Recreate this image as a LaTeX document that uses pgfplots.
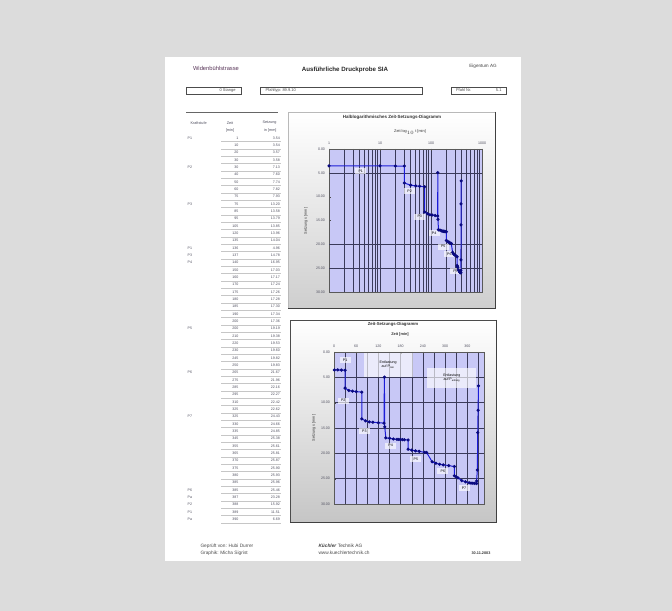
\documentclass[border=0pt]{standalone}
\usepackage{fontspec}
\setmainfont{Liberation Sans}
\usepackage{pgfplots}
\usepackage{pgfplotstable}
\pgfplotsset{compat=1.18}
\definecolor{bgpage}{HTML}{DCDCDC}
\definecolor{plotbg}{HTML}{C8C8F6}
\definecolor{serie}{HTML}{1C1CD8}
\definecolor{mk}{HTML}{0A0A80}
\definecolor{gridc}{HTML}{3A3A5A}
\definecolor{txt}{HTML}{505060}
\newcommand{\fs}[1]{\fontsize{#1}{#1}\selectfont}

\pgfplotstableread{
t s
1 3.54
10 3.54
20 3.57
30 3.58
30 7.13
40 7.60
50 7.74
60 7.82
75 7.93
75 13.20
85 13.58
95 13.79
105 13.85
120 13.96
135 14.04
136 4.96
137 14.78
140 16.95
150 17.03
160 17.17
170 17.24
175 17.26
180 17.28
185 17.30
190 17.34
200 17.36
200 19.19
210 19.38
220 19.53
230 19.60
245 19.82
250 19.83
265 21.67
275 21.96
285 22.16
295 22.27
310 22.42
325 22.62
325 24.43
330 24.66
335 24.85
345 25.38
355 25.61
365 25.81
370 25.87
375 25.90
380 25.93
385 25.96
385 25.46
387 23.28
388 15.92
389 11.51
390 6.69
}\datatab

\pgfplotsset{
  chartstyle/.style={
    scale only axis, anchor=south west,
    axis background/.style={fill=plotbg},
    y dir=reverse, ymin=0, ymax=30, ytick={0,5,...,30},
    xticklabel pos=upper,
    axis line style={gray!70!black, line width=0.4},
    major tick length=2bp, minor tick length=0bp,
    tick style={gray!60!black, line width=0.3},
    ticklabel style={font=\fs{3.6}, text=txt},
    /pgf/number format/assume math mode=true,
    yticklabel style={/pgf/number format/fixed, /pgf/number format/fixed zerofill, /pgf/number format/precision=2, xshift=-0.5bp},
    xtick pos=upper, ytick pos=left,
    grid style={gridc, line width=0.5},
    minor grid style={gridc, line width=0.5},
    xticklabel style={yshift=1bp},
  },
  serstyle/.style={serie, line width=1.0, mark=*, mark size=1.05bp,
    mark options={fill=mk, draw=mk}},
}
\tikzset{
  lbl/.style={fill=white, fill opacity=0.65, text opacity=1, inner sep=0.8bp,
    minimum width=11bp, minimum height=6bp, font=\fs{3.6}, text=black},
}

\begin{document}
\begin{tikzpicture}[x=1bp,y=1bp]
\useasboundingbox (0,0) rectangle (672,611);
\fill[bgpage] (0,0) rectangle (672,611);
\fill[white] (165,50) rectangle (521,554);

% header
\node[font=\fs{5.8}, text=gray!60!violet!70!black] at (216,543) {Widenbühlstrasse};
\node[font=\fs{6.2}\bfseries, text=black!85] at (345,541) {Ausführliche Druckprobe SIA};
\node[font=\fs{4.6}, text=black!75] at (483,545) {Eigentum AG};
\draw[black!70, line width=0.6] (186,517) rectangle (241,524);
\node[anchor=east, font=\fs{4}, text=black!70] at (239,520.5) {0 Stange};
\draw[black!70, line width=0.6] (260,517) rectangle (422,524);
\node[anchor=west, font=\fs{4}, text=black!70] at (262,520.5) {Pfahltyp: 89.9.10};
\draw[black!70, line width=0.6] (451,517) rectangle (506,524);
\node[anchor=west, font=\fs{4}, text=black!70] at (452.5,520.5) {Pfahl Nr.};
\node[anchor=east, font=\fs{4}, text=black!70] at (505,520.5) {5.1};

% table
\draw[black!60, line width=0.7] (186,499) -- (278,499);
\node[anchor=west, font=\fs{3.8}, text=txt] at (187,488) {Kraftstufe};
\node[font=\fs{3.8}, text=txt] at (230,488) {Zeit};
\node[font=\fs{3.8}, text=txt] at (230,480) {[min]};
\node[anchor=east, font=\fs{3.8}, text=txt] at (280,488) {Setzung};
\node[anchor=east, font=\fs{3.8}, text=txt] at (280,480) {in [mm]};
\foreach \k in {0,...,52}{
  \pgfplotstablegetelem{\k}{t}\of\datatab \let\zv\pgfplotsretval
  \pgfplotstablegetelem{\k}{s}\of\datatab \let\sv\pgfplotsretval
  \node[anchor=east, font=\fs{3.6}, text=txt, inner sep=0.5bp] at (239,{473-7.33*\k}) {\zv};
  \node[anchor=east, font=\fs{3.6}, text=txt, inner sep=0.5bp] at (280.5,{473-7.33*\k}) {\sv};
  \draw[gray!45, line width=0.3] (221,{469.4-7.33*\k}) -- (281,{469.4-7.33*\k});
}
\foreach \k/\p in {0/P1,4/P2,9/P3,15/P1,16/P3,17/P4,26/P5,32/P6,38/P7,48/P6,49/Pa,50/P2,51/P1,52/Pa}{
  \node[anchor=west, font=\fs{3.6}, text=txt, inner sep=0.5bp] at (187,{473-7.33*\k}) {\p};
}

% top chart frame
\shade[top color=white, bottom color=gray!38] (288,303) rectangle (495,499);
\draw[gray!55, line width=0.5] (288,303) rectangle (495,499);
\draw[black!75, line width=1.2] (495.6,499) -- (495.6,302.4) -- (288,302.4);
\node[font=\fs{4.5}\bfseries, text=black!80] at (392,494) {Halblogarithmisches Zeit-Setzungs-Diagramm};
\node[font=\fs{3.9}, text=black!80] at (410,479) {Zeit log$_{10}$ t [min]};
\node[rotate=90, font=\fs{3.8}, text=black!80] at (306,390) {Setzung s [mm]};

\begin{axis}[chartstyle, at={(329bp,319bp)}, width=153bp, height=143bp,
  xmode=log, xmin=1, xmax=1000, xtick={1,10,100,1000}, xticklabels={1,10,100,1000},
  xmajorgrids, xminorgrids,
]
\draw[gridc, line width=0.6] (axis cs:1,5) -- (axis cs:1000,5);
\draw[gridc, line width=0.6] (axis cs:1,20) -- (axis cs:1000,20);
\draw[gridc, line width=0.6] (axis cs:1,25) -- (axis cs:1000,25);
\addplot[serstyle] table[x=t, y=s] {\datatab};
\node[lbl] at (axis cs:4.2,4.6) {P1};
\node[lbl] at (axis cs:38,8.8) {P2};
\node[lbl] at (axis cs:60,14.2) {P3};
\node[lbl] at (axis cs:115,17.6) {P4};
\node[lbl] at (axis cs:174,20.5) {P5};
\node[lbl] at (axis cs:229,22.0) {P6};
\node[lbl] at (axis cs:302,25.6) {P7};
\end{axis}

% bottom chart frame
\shade[top color=white, bottom color=gray!45] (290,89) rectangle (496,291);
\draw[black!70, line width=0.6] (290,89) rectangle (496,291);
\draw[black!75, line width=1.2] (496.6,291) -- (496.6,88.4) -- (290,88.4);
\node[font=\fs{4.3}\bfseries, text=black!80] at (393,287) {Zeit-Setzungs-Diagramm};
\node[font=\fs{3.9}\bfseries, text=black!80] at (400,276) {Zeit [min]};
\node[rotate=90, font=\fs{3.8}, text=black!80] at (314,183) {Setzung s [mm]};

\begin{axis}[chartstyle, at={(334bp,107bp)}, width=150bp, height=152bp,
  xmin=0, xmax=405, xtick={0,60,...,360},
  minor xtick={30,90,...,390},
  xmajorgrids, xminorgrids, ymajorgrids,
]
\addplot[serstyle] table[x=t, y=s] {\datatab};
\node[lbl] at (axis cs:30,1.6) {P1};
\node[lbl] at (axis cs:25,9.6) {P2};
\node[lbl] at (axis cs:82,15.6) {P3};
\node[lbl] at (axis cs:153,18.5) {P4};
\node[lbl] at (axis cs:221,21.1) {P5};
\node[lbl] at (axis cs:294,23.5) {P6};
\node[lbl] at (axis cs:351,26.8) {P7};
\node[lbl, align=center, minimum width=49bp, minimum height=24bp] at (axis cs:146,2.5) {Entlastung\\[1bp]auf P$_{\mathrm{min}}$};
\node[lbl, align=center, minimum width=49bp, minimum height=20bp] at (axis cs:318,5.1) {Entlastung\\[1bp]auf P$_{\mathrm{anfang}}$};
\end{axis}

% footer
\node[anchor=west, font=\fs{4.8}, text=black!70] at (197,65) {Geprüft von: Hubi Durrer};
\node[anchor=west, font=\fs{4.8}, text=black!70] at (197,58) {Graphik: Micha Sigrist};
\node[anchor=west, font=\fs{4.8}, text=black!75] at (315,65) {\textbf{\textit{Küchler}} Technik AG};
\node[anchor=west, font=\fs{4.8}, text=black!70] at (315,58) {www.kuechlertechnik.ch};
\node[font=\fs{3.8}\bfseries, text=black!80] at (481,58) {30.11.2003};
\end{tikzpicture}
\end{document}
